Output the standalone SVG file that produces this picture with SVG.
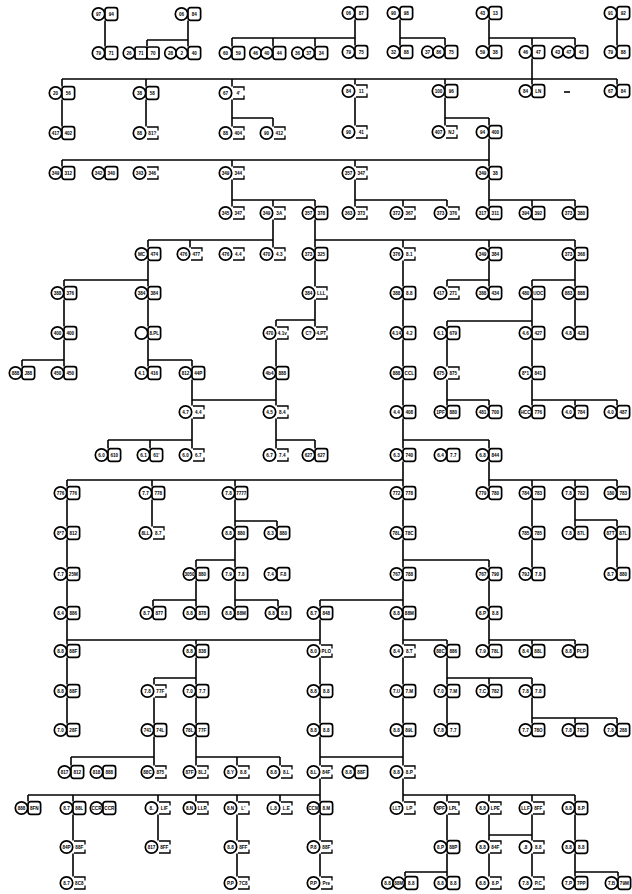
<svg xmlns="http://www.w3.org/2000/svg" xmlns:xlink="http://www.w3.org/1999/xlink" width="632" height="894" viewBox="0 0 632 894">
<style>
.c{fill:#fff;stroke:#000;stroke-width:1.7}
.f{fill:none;stroke:#000;stroke-width:1.3}
.ln{fill:none;stroke:#000;stroke-width:1.6}
text{font-family:"Liberation Sans",Arial,sans-serif;font-size:4.6px;font-weight:bold;text-anchor:middle;fill:#000}
</style>
<defs>
<g id="P"><circle class="c" cx="-6.5" cy="0" r="6.2"/><rect class="c" x="0" y="-6.3" width="12.6" height="12.6" rx="2.5"/></g>
<g id="F"><circle class="c" cx="-6.5" cy="0" r="6.2"/><path class="f" d="M1,-6H12V-2.5M12,2.5V6H1"/></g>
<g id="T"><circle class="c" cx="-17.5" cy="0" r="5.8"/><circle class="c" cx="-6.3" cy="0" r="5.8"/><rect class="c" x="0" y="-6.3" width="12.6" height="12.6" rx="2.5"/></g>
<g id="U"><circle class="c" cx="-18" cy="0" r="5.8"/><rect class="c" x="-12" y="-6" width="12" height="12" rx="2"/><rect class="c" x="0" y="-6" width="12" height="12" rx="2"/></g>
</defs>
<rect width="632" height="894" fill="#fff"/>
<g id="connectors" class="ln">
<path d="M105 20.5V46.5M188 20.5V46.5M147 40H188M147 40V46.5M355 19.5V45.5M232 38H355M232 38V46.5M273 38V46.5M315 38V46.5M400 19.5V45.5M400 38H445M445 38V45.5M489 19.5V45.5M489 38H575M532 38V45.5M575 38V45.5M617 19.5V45.5"/>
<path d="M532 58.5V84.5M62 79H617M62 79V86.5M146 79V86.5M232 79V86.5M355 79V84.5M445 79V84.5M617 79V84.5"/>
<path d="M62 99.5V126.5M146 99.5V126.5M232 99.5V126.5M232 118H273M273 118V126.5M355 97.5V125.5M445 97.5V125.5M445 118H489M489 118V125.5"/>
<path d="M489 138.5V166.5M62 160H489M62 160V166.5M232 160V166.5M355 160V166.5"/>
<path d="M232 179.5V206.5M232 200H315M273 200V206.5M315 200V206.5M355 179.5V206.5M355 200H447M403 200V206.5M447 200V206.5M489 179.5V206.5M489 200H575M532 200V206.5M575 200V206.5"/>
<path d="M273 219.5V247.5M148 240H273M148 240V247.5M190 240V247.5M315 219.5V247.5M315 240H575M403 240V247.5M489 240V247.5M575 240V247.5"/>
<path d="M148 260.5V286.5M64 280H148M64 280V286.5M315 260.5V286.5M403 260.5V286.5M489 260.5V286.5M447 280H489M447 280V286.5M575 260.5V286.5M532 280H575M532 280V286.5"/>
<path d="M64 299.5V326.5M148 299.5V326.5M315 299.5V326.5M276 320H315M276 320V326.5M403 299.5V326.5M532 299.5V326.5M447 321H532M447 321V326.5M575 299.5V326.5"/>
<path d="M64 339.5V366.5M22 360H64M22 360V366.5M148 339.5V366.5M148 360H192M192 360V366.5M276 339.5V366.5M403 339.5V366.5M447 339.5V366.5M532 339.5V366.5"/>
<path d="M276 379.5V405.5M192 400H276M192 379.5V405.5M403 379.5V405.5M447 379.5V405.5M447 400H489M489 400V405.5M532 379.5V405.5M532 400H617M575 400V405.5M617 400V405.5"/>
<path d="M192 418.5V448.5M108 440H192M108 440V448.5M150 440V448.5M276 418.5V448.5M276 440H315M315 440V448.5M403 418.5V448.5M403 440H489M489 440V448.5"/>
<path d="M403 461.5V486.5M67 480H403M67 480V486.5M152 480V486.5M235 480V486.5M489 461.5V486.5M489 480H617M532 480V486.5M575 480V486.5M617 480V486.5"/>
<path d="M67 499.5V526.5M152 499.5V526.5M235 499.5V526.5M235 521H277M277 521V526.5M403 499.5V526.5M532 499.5V526.5M575 499.5V526.5M575 520H617M617 520V526.5"/>
<path d="M67 539.5V567.5M235 539.5V567.5M196 560H235M196 560V567.5M403 539.5V567.5M403 560H489M489 560V567.5M532 539.5V567.5M617 539.5V567.5"/>
<path d="M67 580.5V606.5M196 580.5V606.5M153 600H196M153 600V606.5M235 580.5V606.5M235 600H278M278 600V606.5M403 580.5V606.5M320 600H403M320 600V606.5M489 580.5V606.5"/>
<path d="M320 619.5V644.5M67 640H320M67 619.5V644.5M196 640V644.5M403 619.5V644.5M403 640H447M447 640V644.5M489 619.5V644.5M489 640H575M532 640V644.5M575 640V644.5"/>
<path d="M67 657.5V684.5M196 657.5V684.5M154 678H196M154 678V684.5M320 657.5V684.5M403 657.5V684.5M447 657.5V684.5M447 678H532M489 678V684.5M532 678V684.5"/>
<path d="M67 697.5V723.5M154 697.5V723.5M196 697.5V723.5M320 697.5V723.5M403 697.5V723.5M447 697.5V723.5M532 697.5V723.5M532 718H617M575 718V723.5M617 718V723.5"/>
<path d="M154 736.5V765.5M71 757H154M71 757V765.5M196 736.5V765.5M196 757H280M237 757V765.5M280 757V765.5M320 736.5V765.5M403 736.5V765.5M320 757H403"/>
<path d="M320 778.5V801.5M28 795H320M28 795V801.5M73 795V801.5M158 795V801.5M196 795V801.5M237 795V801.5M280 795V801.5M403 778.5V801.5M403 795H575M447 795V801.5M489 795V801.5M532 795V801.5M575 795V801.5"/>
<path d="M73 814.5V840.5M158 814.5V840.5M237 814.5V840.5M320 814.5V840.5M447 814.5V840.5M489 814.5V840.5M489 835H532M532 814.5V840.5M575 814.5V840.5"/>
<path d="M73 853.5V876.5M237 853.5V876.5M320 853.5V876.5M447 853.5V876.5M405 872H447M405 872V876.5M489 853.5V876.5M532 853.5V876.5M575 853.5V876.5M575 872H618M618 872V876.5"/>
<path d="M564 92H570"/>
</g>
<g id="nodes">
<g id="a1" transform="translate(105 14)"><use href="#P"/><text x="-6.5" y="1.7">97</text><text x="6.3" y="1.7">94</text></g>
<g id="a2" transform="translate(188 14)"><use href="#P"/><text x="-6.5" y="1.7">06</text><text x="6.3" y="1.7">84</text></g>
<g id="a3" transform="translate(355 13)"><use href="#P"/><text x="-6.5" y="1.7">06</text><text x="6.3" y="1.7">87</text></g>
<g id="a4" transform="translate(400 13)"><use href="#P"/><text x="-6.5" y="1.7">90</text><text x="6.3" y="1.7">98</text></g>
<g id="a5" transform="translate(489 13)"><use href="#P"/><text x="-6.5" y="1.7">43</text><text x="6.3" y="1.7">13</text></g>
<g id="a6" transform="translate(617 13)"><use href="#P"/><text x="-6.5" y="1.7">91</text><text x="6.3" y="1.7">92</text></g>

<g id="b1" transform="translate(105 53)"><use href="#P"/><text x="-6.5" y="1.7">79</text><text x="6.3" y="1.7">71</text></g>
<g id="b2" transform="translate(147 53)"><use href="#U"/><text x="-18" y="1.7">26</text><text x="-6" y="1.7">71</text><text x="6" y="1.7">70</text></g>
<g id="b3" transform="translate(188 53)"><use href="#T"/><text x="-17.5" y="1.7">28</text><text x="-6.3" y="1.7">2</text><text x="6.3" y="1.7">40</text></g>
<g id="b4" transform="translate(232 53)"><use href="#P"/><text x="-6.5" y="1.7">60</text><text x="6.3" y="1.7">59</text></g>
<g id="b5" transform="translate(273 53)"><use href="#T"/><text x="-17.5" y="1.7">46</text><text x="-6.3" y="1.7">40</text><text x="6.3" y="1.7">44</text></g>
<g id="b6" transform="translate(315 53)"><use href="#T"/><text x="-17.5" y="1.7">36</text><text x="-6.3" y="1.7">37</text><text x="6.3" y="1.7">34</text></g>
<g id="b7" transform="translate(355 52)"><use href="#P"/><text x="-6.5" y="1.7">79</text><text x="6.3" y="1.7">75</text></g>
<g id="b8" transform="translate(400 52)"><use href="#P"/><text x="-6.5" y="1.7">32</text><text x="6.3" y="1.7">88</text></g>
<g id="b9" transform="translate(445 52)"><use href="#T"/><text x="-17.5" y="1.7">37</text><text x="-6.3" y="1.7">86</text><text x="6.3" y="1.7">75</text></g>
<g id="b10" transform="translate(489 52)"><use href="#P"/><text x="-6.5" y="1.7">59</text><text x="6.3" y="1.7">38</text></g>
<g id="b11" transform="translate(532 52)"><use href="#P"/><text x="-6.5" y="1.7">46</text><text x="6.3" y="1.7">47</text></g>
<g id="b12" transform="translate(575 52)"><use href="#T"/><text x="-17.5" y="1.7">43</text><text x="-6.3" y="1.7">47</text><text x="6.3" y="1.7">45</text></g>
<g id="b13" transform="translate(617 52)"><use href="#P"/><text x="-6.5" y="1.7">79</text><text x="6.3" y="1.7">88</text></g>

<g id="c1" transform="translate(62 93)"><use href="#P"/><text x="-6.5" y="1.7">20</text><text x="6.3" y="1.7">56</text></g>
<g id="c2" transform="translate(146 93)"><use href="#P"/><text x="-6.5" y="1.7">38</text><text x="6.3" y="1.7">58</text></g>
<g id="c3" transform="translate(232 93)"><use href="#F"/><text x="-6.5" y="1.7">67</text><text x="6.3" y="1.7">4'</text></g>
<g id="c4" transform="translate(355 91)"><use href="#F"/><text x="-6.5" y="1.7">84</text><text x="6.3" y="1.7">11</text></g>
<g id="c5" transform="translate(445 91)"><use href="#P"/><text x="-6.5" y="1.7">100</text><text x="6.3" y="1.7">96</text></g>
<g id="c6" transform="translate(532 91)"><use href="#P"/><text x="-6.5" y="1.7">84</text><text x="6.3" y="1.7">LN</text></g>
<g id="c7" transform="translate(617 91)"><use href="#P"/><text x="-6.5" y="1.7">67</text><text x="6.3" y="1.7">84</text></g>

<g id="d1" transform="translate(62 133)"><use href="#P"/><text x="-6.5" y="1.7">417</text><text x="6.3" y="1.7">402</text></g>
<g id="d2" transform="translate(146 133)"><use href="#F"/><text x="-6.5" y="1.7">88</text><text x="6.3" y="1.7">81?</text></g>
<g id="d3" transform="translate(232 133)"><use href="#F"/><text x="-6.5" y="1.7">88</text><text x="6.3" y="1.7">404</text></g>
<g id="d4" transform="translate(273 133)"><use href="#F"/><text x="-6.5" y="1.7">90</text><text x="6.3" y="1.7">412</text></g>
<g id="d5" transform="translate(355 132)"><use href="#F"/><text x="-6.5" y="1.7">90</text><text x="6.3" y="1.7">41</text></g>
<g id="d6" transform="translate(445 132)"><use href="#F"/><text x="-6.5" y="1.7">407</text><text x="6.3" y="1.7">NJ</text></g>
<g id="d7" transform="translate(489 132)"><use href="#P"/><text x="-6.5" y="1.7">94</text><text x="6.3" y="1.7">400</text></g>

<g id="e1" transform="translate(62 173)"><use href="#P"/><text x="-6.5" y="1.7">349</text><text x="6.3" y="1.7">312</text></g>
<g id="e2" transform="translate(105 173)"><use href="#P"/><text x="-6.5" y="1.7">342</text><text x="6.3" y="1.7">340</text></g>
<g id="e3" transform="translate(146 173)"><use href="#F"/><text x="-6.5" y="1.7">343</text><text x="6.3" y="1.7">346</text></g>
<g id="e4" transform="translate(232 173)"><use href="#F"/><text x="-6.5" y="1.7">349</text><text x="6.3" y="1.7">344</text></g>
<g id="e5" transform="translate(355 173)"><use href="#F"/><text x="-6.5" y="1.7">357</text><text x="6.3" y="1.7">347</text></g>
<g id="e6" transform="translate(489 173)"><use href="#P"/><text x="-6.5" y="1.7">349</text><text x="6.3" y="1.7">38</text></g>

<g id="f1" transform="translate(232 213)"><use href="#F"/><text x="-6.5" y="1.7">345</text><text x="6.3" y="1.7">347</text></g>
<g id="f2" transform="translate(273 213)"><use href="#F"/><text x="-6.5" y="1.7">349</text><text x="6.3" y="1.7">3A</text></g>
<g id="f3" transform="translate(315 213)"><use href="#P"/><text x="-6.5" y="1.7">357</text><text x="6.3" y="1.7">378</text></g>
<g id="f4" transform="translate(355 213)"><use href="#F"/><text x="-6.5" y="1.7">363</text><text x="6.3" y="1.7">373</text></g>
<g id="f5" transform="translate(403 213)"><use href="#F"/><text x="-6.5" y="1.7">372</text><text x="6.3" y="1.7">367</text></g>
<g id="f6" transform="translate(447 213)"><use href="#F"/><text x="-6.5" y="1.7">373</text><text x="6.3" y="1.7">376</text></g>
<g id="f7" transform="translate(489 213)"><use href="#P"/><text x="-6.5" y="1.7">317</text><text x="6.3" y="1.7">311</text></g>
<g id="f8" transform="translate(532 213)"><use href="#P"/><text x="-6.5" y="1.7">394</text><text x="6.3" y="1.7">392</text></g>
<g id="f9" transform="translate(575 213)"><use href="#P"/><text x="-6.5" y="1.7">373</text><text x="6.3" y="1.7">380</text></g>

<g id="g1" transform="translate(148 254)"><use href="#P"/><text x="-6.5" y="1.7">MC</text><text x="6.3" y="1.7">474</text></g>
<g id="g2" transform="translate(190 254)"><use href="#F"/><text x="-6.5" y="1.7">476</text><text x="6.3" y="1.7">477</text></g>
<g id="g3" transform="translate(232 254)"><use href="#F"/><text x="-6.5" y="1.7">476</text><text x="6.3" y="1.7">4.4</text></g>
<g id="g4" transform="translate(273 254)"><use href="#F"/><text x="-6.5" y="1.7">470</text><text x="6.3" y="1.7">4.3</text></g>
<g id="g5" transform="translate(315 254)"><use href="#P"/><text x="-6.5" y="1.7">373</text><text x="6.3" y="1.7">325</text></g>
<g id="g6" transform="translate(403 254)"><use href="#F"/><text x="-6.5" y="1.7">376</text><text x="6.3" y="1.7">8.1</text></g>
<g id="g7" transform="translate(489 254)"><use href="#P"/><text x="-6.5" y="1.7">349</text><text x="6.3" y="1.7">384</text></g>
<g id="g8" transform="translate(575 254)"><use href="#P"/><text x="-6.5" y="1.7">373</text><text x="6.3" y="1.7">368</text></g>

<g id="h1" transform="translate(64 293)"><use href="#P"/><text x="-6.5" y="1.7">388</text><text x="6.3" y="1.7">376</text></g>
<g id="h2" transform="translate(148 293)"><use href="#P"/><text x="-6.5" y="1.7">384</text><text x="6.3" y="1.7">384</text></g>
<g id="h3" transform="translate(315 293)"><use href="#F"/><text x="-6.5" y="1.7">384</text><text x="6.3" y="1.7">LLL</text></g>
<g id="h4" transform="translate(403 293)"><use href="#P"/><text x="-6.5" y="1.7">388</text><text x="6.3" y="1.7">8.8</text></g>
<g id="h5" transform="translate(447 293)"><use href="#F"/><text x="-6.5" y="1.7">417</text><text x="6.3" y="1.7">271</text></g>
<g id="h6" transform="translate(489 293)"><use href="#P"/><text x="-6.5" y="1.7">388</text><text x="6.3" y="1.7">434</text></g>
<g id="h7" transform="translate(532 293)"><use href="#P"/><text x="-6.5" y="1.7">480</text><text x="6.3" y="1.7">UOC</text></g>
<g id="h8" transform="translate(575 293)"><use href="#P"/><text x="-6.5" y="1.7">883</text><text x="6.3" y="1.7">888</text></g>

<g id="i1" transform="translate(64 333)"><use href="#P"/><text x="-6.5" y="1.7">400</text><text x="6.3" y="1.7">400</text></g>
<g id="i2" transform="translate(148 333)"><use href="#P"/><text x="6.3" y="1.7">8.PL</text></g>
<g id="i3" transform="translate(276 333)"><use href="#F"/><text x="-6.5" y="1.7">470</text><text x="6.3" y="1.7">4.1v</text></g>
<g id="i4" transform="translate(315 333)"><use href="#F"/><text x="-6.5" y="1.7">C?</text><text x="6.3" y="1.7">4.PT</text></g>
<g id="i5" transform="translate(403 333)"><use href="#P"/><text x="-6.5" y="1.7">4.14</text><text x="6.3" y="1.7">4.2</text></g>
<g id="i6" transform="translate(447 333)"><use href="#P"/><text x="-6.5" y="1.7">6.1</text><text x="6.3" y="1.7">679</text></g>
<g id="i7" transform="translate(532 333)"><use href="#P"/><text x="-6.5" y="1.7">4.6</text><text x="6.3" y="1.7">427</text></g>
<g id="i8" transform="translate(575 333)"><use href="#P"/><text x="-6.5" y="1.7">4.8</text><text x="6.3" y="1.7">428</text></g>

<g id="j1" transform="translate(22 373)"><use href="#P"/><text x="-6.5" y="1.7">888</text><text x="6.3" y="1.7">J88</text></g>
<g id="j2" transform="translate(64 373)"><use href="#P"/><text x="-6.5" y="1.7">450</text><text x="6.3" y="1.7">450</text></g>
<g id="j3" transform="translate(148 373)"><use href="#P"/><text x="-6.5" y="1.7">4.1</text><text x="6.3" y="1.7">416</text></g>
<g id="j4" transform="translate(192 373)"><use href="#P"/><text x="-6.5" y="1.7">812</text><text x="6.3" y="1.7">44P</text></g>
<g id="j5" transform="translate(276 373)"><use href="#P"/><text x="-6.5" y="1.7">4b4</text><text x="6.3" y="1.7">888</text></g>
<g id="j6" transform="translate(403 373)"><use href="#P"/><text x="-6.5" y="1.7">888</text><text x="6.3" y="1.7">CCL</text></g>
<g id="j7" transform="translate(447 373)"><use href="#F"/><text x="-6.5" y="1.7">875</text><text x="6.3" y="1.7">875</text></g>
<g id="j8" transform="translate(532 373)"><use href="#P"/><text x="-6.5" y="1.7">8*1</text><text x="6.3" y="1.7">841</text></g>

<g id="k1" transform="translate(192 412)"><use href="#F"/><text x="-6.5" y="1.7">4.7</text><text x="6.3" y="1.7">4.4</text></g>
<g id="k2" transform="translate(276 412)"><use href="#F"/><text x="-6.5" y="1.7">4.5</text><text x="6.3" y="1.7">8.4</text></g>
<g id="k3" transform="translate(403 412)"><use href="#P"/><text x="-6.5" y="1.7">4.4</text><text x="6.3" y="1.7">408</text></g>
<g id="k4" transform="translate(447 412)"><use href="#P"/><text x="-6.5" y="1.7">1PF</text><text x="6.3" y="1.7">880</text></g>
<g id="k5" transform="translate(489 412)"><use href="#P"/><text x="-6.5" y="1.7">481</text><text x="6.3" y="1.7">700</text></g>
<g id="k6" transform="translate(532 412)"><use href="#P"/><text x="-6.5" y="1.7">HCC</text><text x="6.3" y="1.7">776</text></g>
<g id="k7" transform="translate(575 412)"><use href="#P"/><text x="-6.5" y="1.7">4.0</text><text x="6.3" y="1.7">784</text></g>
<g id="k8" transform="translate(617 412)"><use href="#P"/><text x="-6.5" y="1.7">4.0</text><text x="6.3" y="1.7">487</text></g>

<g id="l1" transform="translate(108 455)"><use href="#P"/><text x="-6.5" y="1.7">6.0</text><text x="6.3" y="1.7">610</text></g>
<g id="l2" transform="translate(150 455)"><use href="#P"/><text x="-6.5" y="1.7">6.1</text><text x="6.3" y="1.7">61'</text></g>
<g id="l3" transform="translate(192 455)"><use href="#F"/><text x="-6.5" y="1.7">6.0</text><text x="6.3" y="1.7">6.7</text></g>
<g id="l4" transform="translate(276 455)"><use href="#F"/><text x="-6.5" y="1.7">6.7</text><text x="6.3" y="1.7">7.4</text></g>
<g id="l5" transform="translate(315 455)"><use href="#P"/><text x="-6.5" y="1.7">627</text><text x="6.3" y="1.7">627</text></g>
<g id="l6" transform="translate(403 455)"><use href="#P"/><text x="-6.5" y="1.7">6.3</text><text x="6.3" y="1.7">740</text></g>
<g id="l7" transform="translate(447 455)"><use href="#P"/><text x="-6.5" y="1.7">6.4</text><text x="6.3" y="1.7">7.7</text></g>
<g id="l8" transform="translate(489 455)"><use href="#P"/><text x="-6.5" y="1.7">6.8</text><text x="6.3" y="1.7">844</text></g>

<g id="m1" transform="translate(67 493)"><use href="#P"/><text x="-6.5" y="1.7">776</text><text x="6.3" y="1.7">776</text></g>
<g id="m2" transform="translate(152 493)"><use href="#P"/><text x="-6.5" y="1.7">7.7</text><text x="6.3" y="1.7">778</text></g>
<g id="m3" transform="translate(235 493)"><use href="#P"/><text x="-6.5" y="1.7">7.8</text><text x="6.3" y="1.7">7777</text></g>
<g id="m4" transform="translate(403 493)"><use href="#P"/><text x="-6.5" y="1.7">772</text><text x="6.3" y="1.7">778</text></g>
<g id="m5" transform="translate(489 493)"><use href="#P"/><text x="-6.5" y="1.7">779</text><text x="6.3" y="1.7">780</text></g>
<g id="m6" transform="translate(532 493)"><use href="#P"/><text x="-6.5" y="1.7">784</text><text x="6.3" y="1.7">783</text></g>
<g id="m7" transform="translate(575 493)"><use href="#P"/><text x="-6.5" y="1.7">7.8</text><text x="6.3" y="1.7">782</text></g>
<g id="m8" transform="translate(617 493)"><use href="#P"/><text x="-6.5" y="1.7">180</text><text x="6.3" y="1.7">783</text></g>

<g id="n1" transform="translate(67 533)"><use href="#P"/><text x="-6.5" y="1.7">8*7</text><text x="6.3" y="1.7">812</text></g>
<g id="n2" transform="translate(152 533)"><use href="#F"/><text x="-6.5" y="1.7">8LL</text><text x="6.3" y="1.7">8.7</text></g>
<g id="n3" transform="translate(235 533)"><use href="#P"/><text x="-6.5" y="1.7">8.8</text><text x="6.3" y="1.7">880</text></g>
<g id="n4" transform="translate(277 533)"><use href="#P"/><text x="-6.5" y="1.7">8.3</text><text x="6.3" y="1.7">880</text></g>
<g id="n5" transform="translate(403 533)"><use href="#P"/><text x="-6.5" y="1.7">78L</text><text x="6.3" y="1.7">78C</text></g>
<g id="n6" transform="translate(532 533)"><use href="#P"/><text x="-6.5" y="1.7">785</text><text x="6.3" y="1.7">785</text></g>
<g id="n7" transform="translate(575 533)"><use href="#P"/><text x="-6.5" y="1.7">7.8</text><text x="6.3" y="1.7">87L</text></g>
<g id="n8" transform="translate(617 533)"><use href="#P"/><text x="-6.5" y="1.7">87T</text><text x="6.3" y="1.7">87L</text></g>

<g id="o1" transform="translate(67 574)"><use href="#P"/><text x="-6.5" y="1.7">7.7</text><text x="6.3" y="1.7">25M</text></g>
<g id="o2" transform="translate(196 574)"><use href="#P"/><text x="-6.5" y="1.7">3050</text><text x="6.3" y="1.7">880</text></g>
<g id="o3" transform="translate(235 574)"><use href="#P"/><text x="-6.5" y="1.7">7.9</text><text x="6.3" y="1.7">7.8</text></g>
<g id="o4" transform="translate(277 574)"><use href="#P"/><text x="-6.5" y="1.7">7.4</text><text x="6.3" y="1.7">F.8</text></g>
<g id="o5" transform="translate(403 574)"><use href="#P"/><text x="-6.5" y="1.7">767</text><text x="6.3" y="1.7">788</text></g>
<g id="o6" transform="translate(489 574)"><use href="#P"/><text x="-6.5" y="1.7">767</text><text x="6.3" y="1.7">790</text></g>
<g id="o7" transform="translate(532 574)"><use href="#P"/><text x="-6.5" y="1.7">79J</text><text x="6.3" y="1.7">7.8</text></g>
<g id="o8" transform="translate(617 574)"><use href="#P"/><text x="-6.5" y="1.7">8.7</text><text x="6.3" y="1.7">880</text></g>

<g id="p1" transform="translate(67 613)"><use href="#P"/><text x="-6.5" y="1.7">8.4</text><text x="6.3" y="1.7">886</text></g>
<g id="p2" transform="translate(153 613)"><use href="#P"/><text x="-6.5" y="1.7">8.7</text><text x="6.3" y="1.7">877</text></g>
<g id="p3" transform="translate(196 613)"><use href="#P"/><text x="-6.5" y="1.7">8.8</text><text x="6.3" y="1.7">878</text></g>
<g id="p4" transform="translate(235 613)"><use href="#P"/><text x="-6.5" y="1.7">8.8</text><text x="6.3" y="1.7">88M</text></g>
<g id="p5" transform="translate(278 613)"><use href="#P"/><text x="-6.5" y="1.7">8.8</text><text x="6.3" y="1.7">8.8</text></g>
<g id="p6" transform="translate(320 613)"><use href="#P"/><text x="-6.5" y="1.7">8.7</text><text x="6.3" y="1.7">848</text></g>
<g id="p7" transform="translate(403 613)"><use href="#P"/><text x="-6.5" y="1.7">8.8</text><text x="6.3" y="1.7">88M</text></g>
<g id="p8" transform="translate(489 613)"><use href="#P"/><text x="-6.5" y="1.7">8.P</text><text x="6.3" y="1.7">8.8</text></g>

<g id="q1" transform="translate(67 651)"><use href="#P"/><text x="-6.5" y="1.7">8.8</text><text x="6.3" y="1.7">88F</text></g>
<g id="q2" transform="translate(196 651)"><use href="#P"/><text x="-6.5" y="1.7">8.8</text><text x="6.3" y="1.7">838</text></g>
<g id="q3" transform="translate(320 651)"><use href="#F"/><text x="-6.5" y="1.7">8.0</text><text x="6.3" y="1.7">PLO</text></g>
<g id="q4" transform="translate(403 651)"><use href="#F"/><text x="-6.5" y="1.7">8.4</text><text x="6.3" y="1.7">8.T</text></g>
<g id="q5" transform="translate(447 651)"><use href="#P"/><text x="-6.5" y="1.7">88C</text><text x="6.3" y="1.7">886</text></g>
<g id="q6" transform="translate(489 651)"><use href="#P"/><text x="-6.5" y="1.7">7.9</text><text x="6.3" y="1.7">78L</text></g>
<g id="q7" transform="translate(532 651)"><use href="#P"/><text x="-6.5" y="1.7">8.4</text><text x="6.3" y="1.7">88L</text></g>
<g id="q8" transform="translate(575 651)"><use href="#P"/><text x="-6.5" y="1.7">8.8</text><text x="6.3" y="1.7">PLP</text></g>

<g id="r1" transform="translate(67 691)"><use href="#P"/><text x="-6.5" y="1.7">8.8</text><text x="6.3" y="1.7">88F</text></g>
<g id="r2" transform="translate(154 691)"><use href="#F"/><text x="-6.5" y="1.7">7.8</text><text x="6.3" y="1.7">77F</text></g>
<g id="r3" transform="translate(196 691)"><use href="#P"/><text x="-6.5" y="1.7">7.0</text><text x="6.3" y="1.7">7.7</text></g>
<g id="r4" transform="translate(320 691)"><use href="#P"/><text x="-6.5" y="1.7">8.8</text><text x="6.3" y="1.7">8.8</text></g>
<g id="r5" transform="translate(403 691)"><use href="#P"/><text x="-6.5" y="1.7">7.U</text><text x="6.3" y="1.7">7.M</text></g>
<g id="r6" transform="translate(447 691)"><use href="#P"/><text x="-6.5" y="1.7">7.0</text><text x="6.3" y="1.7">7.M</text></g>
<g id="r7" transform="translate(489 691)"><use href="#P"/><text x="-6.5" y="1.7">7.C</text><text x="6.3" y="1.7">782</text></g>
<g id="r8" transform="translate(532 691)"><use href="#P"/><text x="-6.5" y="1.7">7.8</text><text x="6.3" y="1.7">7.8</text></g>

<g id="s1" transform="translate(67 730)"><use href="#P"/><text x="-6.5" y="1.7">7.0</text><text x="6.3" y="1.7">28F</text></g>
<g id="s2" transform="translate(154 730)"><use href="#P"/><text x="-6.5" y="1.7">741</text><text x="6.3" y="1.7">74L</text></g>
<g id="s3" transform="translate(196 730)"><use href="#P"/><text x="-6.5" y="1.7">78L</text><text x="6.3" y="1.7">77F</text></g>
<g id="s4" transform="translate(320 730)"><use href="#P"/><text x="-6.5" y="1.7">8.8</text><text x="6.3" y="1.7">8.8</text></g>
<g id="s5" transform="translate(403 730)"><use href="#P"/><text x="-6.5" y="1.7">8.8</text><text x="6.3" y="1.7">89L</text></g>
<g id="s6" transform="translate(447 730)"><use href="#P"/><text x="-6.5" y="1.7">7.8</text><text x="6.3" y="1.7">7.7</text></g>
<g id="s7" transform="translate(532 730)"><use href="#P"/><text x="-6.5" y="1.7">7.7</text><text x="6.3" y="1.7">78O</text></g>
<g id="s8" transform="translate(575 730)"><use href="#P"/><text x="-6.5" y="1.7">7.8</text><text x="6.3" y="1.7">78C</text></g>
<g id="s9" transform="translate(617 730)"><use href="#P"/><text x="-6.5" y="1.7">7.8</text><text x="6.3" y="1.7">288</text></g>

<g id="t1" transform="translate(71 772)"><use href="#P"/><text x="-6.5" y="1.7">817</text><text x="6.3" y="1.7">812</text></g>
<g id="t2" transform="translate(103 772)"><use href="#P"/><text x="-6.5" y="1.7">818</text><text x="6.3" y="1.7">888</text></g>
<g id="t3" transform="translate(154 772)"><use href="#F"/><text x="-6.5" y="1.7">88C</text><text x="6.3" y="1.7">875</text></g>
<g id="t4" transform="translate(196 772)"><use href="#F"/><text x="-6.5" y="1.7">87F</text><text x="6.3" y="1.7">8LJ</text></g>
<g id="t5" transform="translate(237 772)"><use href="#F"/><text x="-6.5" y="1.7">8.Y</text><text x="6.3" y="1.7">8.8</text></g>
<g id="t6" transform="translate(280 772)"><use href="#F"/><text x="-6.5" y="1.7">8.8</text><text x="6.3" y="1.7">8.L</text></g>
<g id="t7" transform="translate(320 772)"><use href="#F"/><text x="-6.5" y="1.7">8.L</text><text x="6.3" y="1.7">84F</text></g>
<g id="t8" transform="translate(355 772)"><use href="#P"/><text x="-6.5" y="1.7">8.8</text><text x="6.3" y="1.7">88F</text></g>
<g id="t9" transform="translate(403 772)"><use href="#F"/><text x="-6.5" y="1.7">8.8</text><text x="6.3" y="1.7">8.P</text></g>

<g id="u1" transform="translate(28 808)"><use href="#P"/><text x="-6.5" y="1.7">888</text><text x="6.3" y="1.7">8FN</text></g>
<g id="u2" transform="translate(73 808)"><use href="#P"/><text x="-6.5" y="1.7">8.7</text><text x="6.3" y="1.7">88L</text></g>
<g id="u3" transform="translate(103 808)"><use href="#P"/><text x="-6.5" y="1.7">CCR</text><text x="6.3" y="1.7">CCR</text></g>
<g id="u4" transform="translate(158 808)"><use href="#F"/><text x="-6.5" y="1.7">8.</text><text x="6.3" y="1.7">LIF</text></g>
<g id="u5" transform="translate(196 808)"><use href="#F"/><text x="-6.5" y="1.7">8.N</text><text x="6.3" y="1.7">LLR</text></g>
<g id="u6" transform="translate(237 808)"><use href="#F"/><text x="-6.5" y="1.7">8.N</text><text x="6.3" y="1.7">L'</text></g>
<g id="u7" transform="translate(280 808)"><use href="#F"/><text x="-6.5" y="1.7">L.8</text><text x="6.3" y="1.7">L.E</text></g>
<g id="u8" transform="translate(320 808)"><use href="#P"/><text x="-6.5" y="1.7">CCM</text><text x="6.3" y="1.7">8.M</text></g>
<g id="u9" transform="translate(403 808)"><use href="#F"/><text x="-6.5" y="1.7">LLT</text><text x="6.3" y="1.7">LP</text></g>
<g id="u10" transform="translate(447 808)"><use href="#F"/><text x="-6.5" y="1.7">8PF</text><text x="6.3" y="1.7">LPL</text></g>
<g id="u11" transform="translate(489 808)"><use href="#F"/><text x="-6.5" y="1.7">8.8</text><text x="6.3" y="1.7">LPE</text></g>
<g id="u12" transform="translate(532 808)"><use href="#F"/><text x="-6.5" y="1.7">LLF</text><text x="6.3" y="1.7">8FF</text></g>
<g id="u13" transform="translate(575 808)"><use href="#P"/><text x="-6.5" y="1.7">8.8</text><text x="6.3" y="1.7">8.P</text></g>

<g id="v1" transform="translate(73 847)"><use href="#F"/><text x="-6.5" y="1.7">84P</text><text x="6.3" y="1.7">88F</text></g>
<g id="v2" transform="translate(158 847)"><use href="#F"/><text x="-6.5" y="1.7">817</text><text x="6.3" y="1.7">8FF</text></g>
<g id="v3" transform="translate(237 847)"><use href="#F"/><text x="-6.5" y="1.7">8.8</text><text x="6.3" y="1.7">8FF</text></g>
<g id="v4" transform="translate(320 847)"><use href="#F"/><text x="-6.5" y="1.7">P.8</text><text x="6.3" y="1.7">88F</text></g>
<g id="v5" transform="translate(447 847)"><use href="#P"/><text x="-6.5" y="1.7">8.P</text><text x="6.3" y="1.7">88P</text></g>
<g id="v6" transform="translate(489 847)"><use href="#F"/><text x="-6.5" y="1.7">8.8</text><text x="6.3" y="1.7">84F</text></g>
<g id="v7" transform="translate(532 847)"><use href="#F"/><text x="-6.5" y="1.7">.8</text><text x="6.3" y="1.7">8.8</text></g>
<g id="v8" transform="translate(575 847)"><use href="#P"/><text x="-6.5" y="1.7">8.8</text><text x="6.3" y="1.7">8.8</text></g>

<g id="w1" transform="translate(73 883)"><use href="#F"/><text x="-6.5" y="1.7">8.7</text><text x="6.3" y="1.7">8C8</text></g>
<g id="w2" transform="translate(237 883)"><use href="#F"/><text x="-6.5" y="1.7">P.P</text><text x="6.3" y="1.7">7C8</text></g>
<g id="w3" transform="translate(320 883)"><use href="#F"/><text x="-6.5" y="1.7">P.P</text><text x="6.3" y="1.7">Pre</text></g>
<g id="w4" transform="translate(405 883)"><use href="#T"/><text x="-17.5" y="1.7">8.8</text><text x="-6.3" y="1.7">88M</text><text x="6.3" y="1.7">8.8</text></g>
<g id="w5" transform="translate(447 883)"><use href="#P"/><text x="-6.5" y="1.7">8.8</text><text x="6.3" y="1.7">8.8</text></g>
<g id="w6" transform="translate(489 883)"><use href="#F"/><text x="-6.5" y="1.7">8.8</text><text x="6.3" y="1.7">8.P</text></g>
<g id="w7" transform="translate(532 883)"><use href="#F"/><text x="-6.5" y="1.7">7.8</text><text x="6.3" y="1.7">P.C</text></g>
<g id="w8" transform="translate(575 883)"><use href="#P"/><text x="-6.5" y="1.7">7.P</text><text x="6.3" y="1.7">7PP</text></g>
<g id="w9" transform="translate(618 883)"><use href="#P"/><text x="-6.5" y="1.7">7.B</text><text x="6.3" y="1.7">79M</text></g>
</g>
</svg>
